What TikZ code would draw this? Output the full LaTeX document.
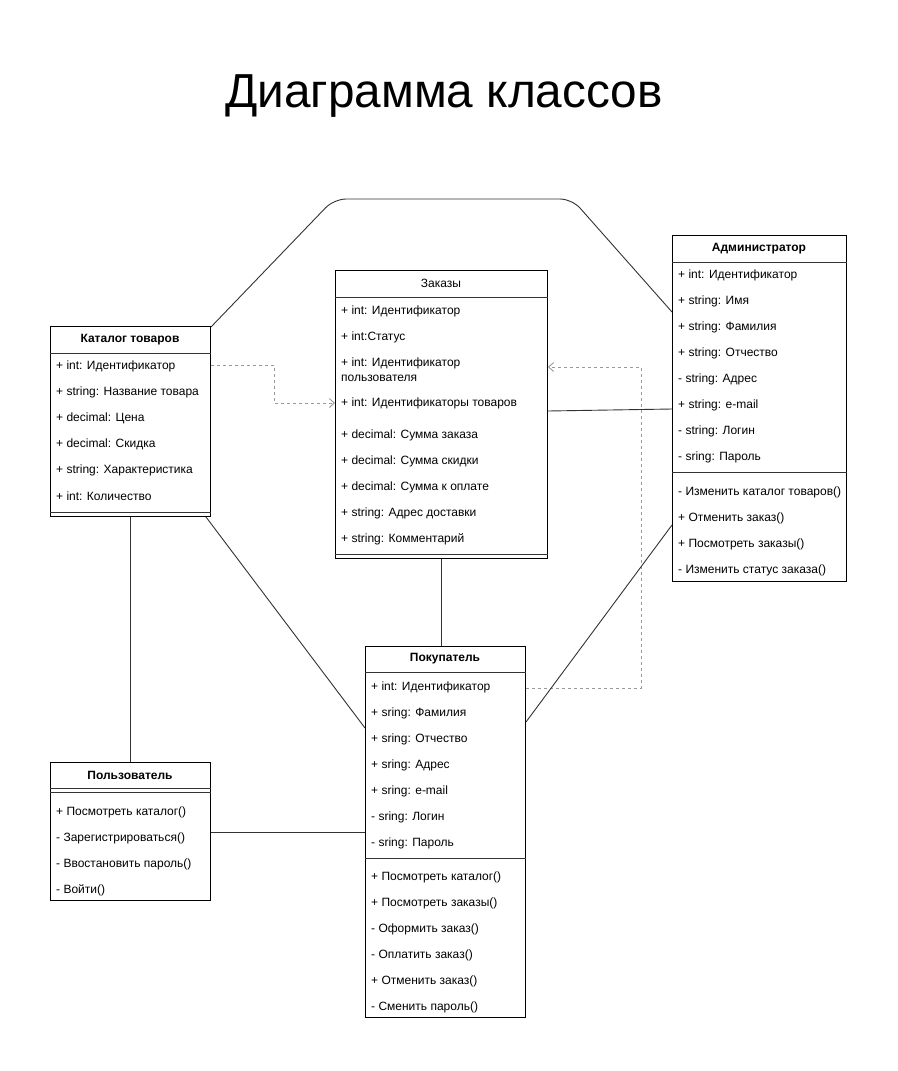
\documentclass[tikz,border=0pt]{standalone}
\usepackage{fontspec}
\setmainfont{Liberation Sans}
\usetikzlibrary{arrows.meta}
\begin{document}
\begin{tikzpicture}[x=1pt,y=-1pt,
  cls/.style={draw=black,line width=1pt,anchor=north west,inner sep=0pt,minimum width=#1},
  row/.style={anchor=west,inner sep=0pt,yshift=-1pt,font=\fontsize{12}{15}\selectfont,align=left},
  hdr/.style={inner sep=0pt,font=\fontsize{12}{14}\selectfont\bfseries},
  sep/.style={draw=black!80,line width=1pt},
  conn/.style={draw=black!80,line width=0.9pt},
  dep/.style={draw=black!40,line width=0.9pt,dash pattern=on 3pt off 3pt,-{Straight Barb[length=5pt,width=9pt]}}
]
\useasboundingbox (0,0) rectangle (897,1071);
\fill[white] (0,0) rectangle (897,1071);

\node[inner sep=0pt,font=\fontsize{47.7}{54}\selectfont] (title) at (444,96) {Диаграмма классов};

% ---------- Каталог товаров ----------
\node[cls=160pt,minimum height=190pt] (kat) at (50,326) {};
\node[hdr] (katH) at (130,339.5) {Каталог товаров};
\draw[sep] (kat.west |- 0,353) -- (kat.east |- 0,353);
\draw[sep] (kat.west |- 0,512) -- (kat.east |- 0,512);
\node[row] (katA1) at (56,365) {+ int: Идентификатор};
\node[row] (katA2) at (56,391) {+ string: Название товара};
\node[row] (katA3) at (56,417) {+ decimal: Цена};
\node[row] (katA4) at (56,443) {+ decimal: Скидка};
\node[row] (katA5) at (56,469) {+ string: Характеристика};
\node[row] (katA6) at (56,495) {+ int: Количество};

% ---------- Заказы ----------
\node[cls=212pt,minimum height=288pt] (zak) at (335,270) {};
\node[hdr,font=\fontsize{12}{14}\selectfont] (zakH) at (441,283.5) {Заказы};
\draw[sep] (zak.west |- 0,297) -- (zak.east |- 0,297);
\draw[sep] (zak.west |- 0,554) -- (zak.east |- 0,554);
\node[row] (zakA1) at (341,310) {+ int: Идентификатор};
\node[row] (zakA2) at (341,336) {+ int:Статус};
\node[row] (zakA3) at (341,368.5) {+ int: Идентификатор\\пользователя};
\node[row] (zakA4) at (341,402) {+ int: Идентификаторы товаров};
\node[row] (zakA5) at (341,434) {+ decimal: Сумма заказа};
\node[row] (zakA6) at (341,460) {+ decimal: Сумма скидки};
\node[row] (zakA7) at (341,486) {+ decimal: Сумма к оплате};
\node[row] (zakA8) at (341,512) {+ string: Адрес доставки};
\node[row] (zakA9) at (341,538) {+ string: Комментарий};

% ---------- Администратор ----------
\node[cls=174pt,minimum height=346pt] (adm) at (672,235) {};
\node[hdr] (admH) at (759,248.5) {Администратор};
\draw[sep] (adm.west |- 0,262) -- (adm.east |- 0,262);
\draw[sep] (adm.west |- 0,472) -- (adm.east |- 0,472);
\node[row] (admA1) at (678,274) {+ int: Идентификатор};
\node[row] (admA2) at (678,300) {+ string: Имя};
\node[row] (admA3) at (678,326) {+ string: Фамилия};
\node[row] (admA4) at (678,352) {+ string: Отчество};
\node[row] (admA5) at (678,378) {- string: Адрес};
\node[row] (admA6) at (678,404) {+ string: e-mail};
\node[row] (admA7) at (678,430) {- string: Логин};
\node[row] (admA8) at (678,456) {- sring: Пароль};
\node[row] (admM1) at (678,491) {- Изменить каталог товаров()};
\node[row] (admM2) at (678,517) {+ Отменить заказ()};
\node[row] (admM3) at (678,543) {+ Посмотреть заказы()};
\node[row] (admM4) at (678,569) {- Изменить статус заказа()};

% ---------- Покупатель ----------
\node[cls=160pt,minimum height=371pt] (pok) at (365,646) {};
\node[hdr] (pokH) at (445,659) {Покупатель};
\draw[sep] (pok.west |- 0,672) -- (pok.east |- 0,672);
\draw[sep] (pok.west |- 0,858) -- (pok.east |- 0,858);
\node[row] (pokA1) at (371,686) {+ int: Идентификатор};
\node[row] (pokA2) at (371,712) {+ sring: Фамилия};
\node[row] (pokA3) at (371,738) {+ sring: Отчество};
\node[row] (pokA4) at (371,764) {+ sring: Адрес};
\node[row] (pokA5) at (371,790) {+ sring: e-mail};
\node[row] (pokA6) at (371,816) {- sring: Логин};
\node[row] (pokA7) at (371,842) {- sring: Пароль};
\node[row] (pokM1) at (371,876) {+ Посмотреть каталог()};
\node[row] (pokM2) at (371,902) {+ Посмотреть заказы()};
\node[row] (pokM3) at (371,928) {- Оформить заказ()};
\node[row] (pokM4) at (371,954) {- Оплатить заказ()};
\node[row] (pokM5) at (371,980) {+ Отменить заказ()};
\node[row] (pokM6) at (371,1006) {- Сменить пароль()};

% ---------- Пользователь ----------
\node[cls=160pt,minimum height=138pt] (pol) at (50,762) {};
\node[hdr] (polH) at (130,775) {Пользователь};
\draw[sep] (pol.west |- 0,788) -- (pol.east |- 0,788);
\draw[sep] (pol.west |- 0,792) -- (pol.east |- 0,792);
\node[row] (polM1) at (56,811) {+ Посмотреть каталог()};
\node[row] (polM2) at (56,837) {- Зарегистрироваться()};
\node[row] (polM3) at (56,863) {- Ввостановить пароль()};
\node[row] (polM4) at (56,889) {- Войти()};

% ---------- connectors ----------
\coordinate (t1) at (334,199);
\coordinate (t2) at (572,199);
\draw[conn,rounded corners=12pt] ([yshift=-1pt]kat.north east) -- (t1) -- (t2) -- ([yshift=-77pt]adm.north west);

\draw[dep] ([yshift=-39pt]kat.north east) -- ++(63,0) |- ([yshift=-133pt]zak.north west);
\draw[dep] ([yshift=-42pt]pok.north east) -- ++(115,0) |- ([yshift=-97pt]zak.north east);

\draw[conn] ([yshift=-141pt]zak.north east) -- ([yshift=-174pt]adm.north west);
\draw[conn] (zak.south) -- (zak.south |- pok.north);
\draw[conn] ([yshift=-290pt]adm.north west) -- ([yshift=-76pt]pok.north east);
\draw[conn] ([xshift=-5pt]kat.south east) -- ([yshift=-82pt]pok.north west);
\draw[conn] (kat.south) -- (pol.north);
\draw[conn] ([yshift=-70pt]pol.north east) -- ([yshift=-186pt]pok.north west);
\end{tikzpicture}
\end{document}
